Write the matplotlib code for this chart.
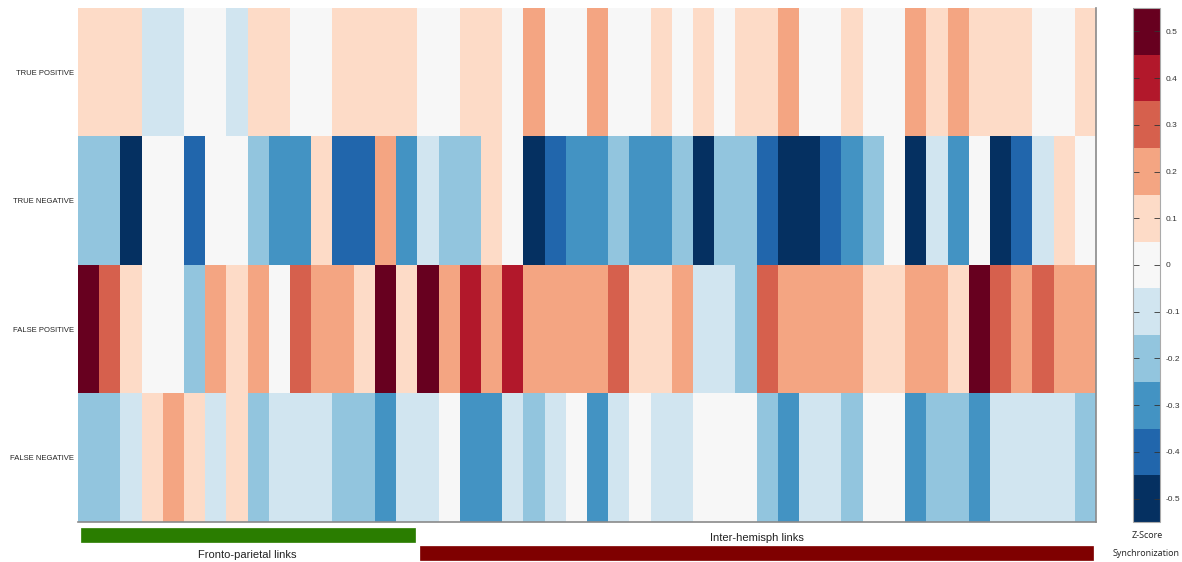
import matplotlib.pyplot as plt
import numpy as np
from matplotlib.colors import ListedColormap, BoundaryNorm
from matplotlib.patches import Rectangle

# Z-score of synchronization per link (values in tenths), one row per outcome
row_labels = ["TRUE POSITIVE", "TRUE NEGATIVE", "FALSE POSITIVE", "FALSE NEGATIVE"]

true_positive = [1, 1, 1, -1, -1, 0, 0, -1, 1, 1, 0, 0, 1, 1, 1, 1,
                 0, 0, 1, 1, 0, 2, 0, 0, 2, 0, 0, 1, 0, 1, 0, 1,
                 1, 2, 0, 0, 1, 0, 0, 2, 1, 2, 1, 1, 1, 0, 0, 1]
true_negative = [-2, -2, -5, 0, 0, -4, 0, 0, -2, -3, -3, 1, -4, -4, 2, -3,
                 -1, -2, -2, 1, 0, -5, -4, -3, -3, -2, -3, -3, -2, -5, -2, -2,
                 -4, -5, -5, -4, -3, -2, 0, -5, -1, -3, 0, -5, -4, -1, 1, 0]
false_positive = [5, 3, 1, 0, 0, -2, 2, 1, 2, 0, 3, 2, 2, 1, 5, 1,
                  5, 2, 4, 2, 4, 2, 2, 2, 2, 3, 1, 1, 2, -1, -1, -2,
                  3, 2, 2, 2, 2, 1, 1, 2, 2, 1, 5, 3, 2, 3, 2, 2]
false_negative = [-2, -2, -1, 1, 2, 1, -1, 1, -2, -1, -1, -1, -2, -2, -3, -1,
                  -1, 0, -3, -3, -1, -2, -1, 0, -3, -1, 0, -1, -1, 0, 0, 0,
                  -2, -3, -1, -1, -2, 0, 0, -3, -2, -2, -3, -1, -1, -1, -1, -2]

# link groups: (label, first column, last column)
groups = [("Fronto-parietal links", 0, 15), ("Inter-hemisph links", 16, 47)]
group_colors = ["#2a7d00", "#7f0000"]

cbar_ticks = [-0.5, -0.4, -0.3, -0.2, -0.1, 0, 0.1, 0.2, 0.3, 0.4, 0.5]

data = np.array([true_positive, true_negative, false_positive, false_negative]) / 10.0
n_rows, n_cols = data.shape

# 11-class RdBu (colorbrewer), blue = negative
colors = ["#053061", "#2166ac", "#4393c3", "#92c5de", "#d1e5f0", "#f7f7f7",
          "#fddbc7", "#f4a582", "#d6604d", "#b2182b", "#67001f"]
cmap = ListedColormap(colors)
bounds = np.arange(-0.55, 0.56, 0.1)
norm = BoundaryNorm(bounds, cmap.N)

W, H = 1182, 562
fig = plt.figure(figsize=(W / 100, H / 100), dpi=100)

ax = fig.add_axes([78 / W, 1 - 522 / H, 1018 / W, 514 / H])
im = ax.imshow(data, cmap=cmap, norm=norm, aspect="auto",
               extent=(0, n_cols, n_rows, 0), interpolation="nearest")
ax.set_xlim(0, n_cols)
ax.set_ylim(n_rows, 0)
ax.set_xticks([])
ax.set_yticks(np.arange(n_rows) + 0.5)
ax.set_yticklabels(row_labels, fontsize=5.5, family="Liberation Sans", color="#222222")
ax.tick_params(axis="y", length=0, pad=3)
for side in ["top", "left"]:
    ax.spines[side].set_visible(False)
for side in ["bottom", "right"]:
    ax.spines[side].set_color("#8a8a8a")
    ax.spines[side].set_linewidth(1.2)

# group bars under the heatmap
trans = ax.get_xaxis_transform()
bar_rows = [(-0.0117, -0.0385), (-0.0467, -0.0735)]
text_y = [-0.0645, -0.031]
for (label, c0, c1), col, (y0, y1), ty in zip(groups, group_colors, bar_rows, text_y):
    ax.add_patch(Rectangle((c0 + 0.14, y1), (c1 - c0 + 1) - 0.26, y0 - y1,
                           transform=trans, facecolor=col, edgecolor=col,
                           lw=0.5, clip_on=False))
    ax.text((c0 + c1 + 1) / 2, ty, label, transform=trans, ha="center", va="center",
            fontsize=8, family="Liberation Sans", color="#222222")

# colorbar
cax = fig.add_axes([1133 / W, 1 - 522 / H, 27 / W, 514 / H])
cb = fig.colorbar(im, cax=cax, boundaries=bounds, ticks=cbar_ticks)
cb.ax.minorticks_off()
cb.ax.set_yticklabels([("%g" % t) for t in cbar_ticks], fontsize=6,
                      family="Liberation Sans", color="#333333")
cb.ax.tick_params(direction="in", length=4, width=0.6, color="#333333",
                  left=True, right=True, pad=4)
cb.outline.set_edgecolor("#aaaaaa")
cb.outline.set_linewidth(0.8)

fig.text(1147 / W, 1 - 535 / H, "Z-Score", ha="center", va="center",
         fontsize=6.5, family="Open Sans", color="#222222")
fig.text(1146 / W, 1 - 553 / H, "Synchronization", ha="center", va="center",
         fontsize=6.5, family="Open Sans", color="#222222")

fig.savefig("out.png", dpi=100)
